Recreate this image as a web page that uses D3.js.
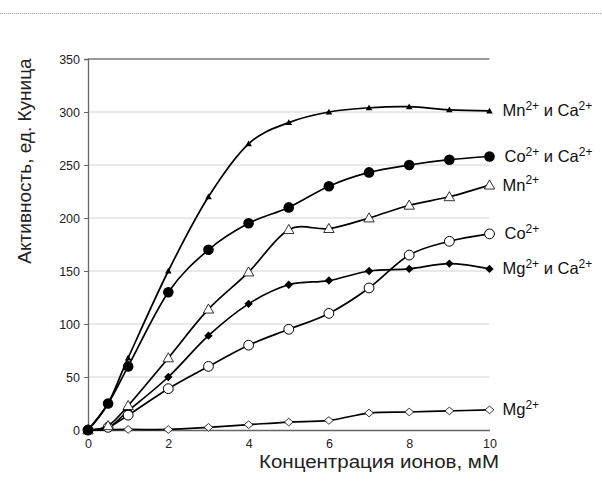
<!DOCTYPE html>
<html>
<head>
<meta charset="utf-8">
<script src="https://cdn.jsdelivr.net/npm/d3@7"></script>
<style>
  html, body { margin: 0; padding: 0; background: #fff; }
  svg { display: block; font-family: "Liberation Sans", Arial, sans-serif; }
</style>
</head>
<body>
<svg id="chart" width="602" height="481"></svg>
<script>
// ---- data ----
const concentrations = [0, 0.5, 1, 2, 3, 4, 5, 6, 7, 8, 9, 10];
const seriesNames = ["Mn2+ и Ca2+", "Co2+ и Ca2+", "Mn2+", "Co2+", "Mg2+ и Ca2+", "Mg2+"];
const mnCa = [0, 25, 68, 150, 220, 270, 290, 300, 304, 305, 302, 301];
const coCa = [0, 25, 60, 130, 170, 195, 210, 230, 243, 250, 255, 258];
const mn   = [0, 4, 23, 68, 114, 149, 189, 190, 200, 212, 220, 231];
const co   = [0, 2.5, 14, 39, 60, 80, 95, 110, 134, 165, 178, 185];
const mgCa = [0, 2, 18, 50, 89, 119, 137, 141, 150, 152, 157, 152];
const mg   = [0, null, 0.5, 0.5, 2.5, 5, 7.5, 9, 16, 17, 18, 19];
const yTicks = [0, 50, 100, 150, 200, 250, 300, 350];
const xTicks = [0, 2, 4, 6, 8, 10];
const xTitle = "Концентрация ионов, мМ";
const yTitle = "Активность, ед. Куница";

const values = [mnCa, coCa, mn, co, mgCa, mg];
const markers = ["triFilled", "circFilled", "triOpen", "circOpen", "diaFilled", "diaOpen"];

// ---- layout ----
const svg = d3.select("#chart");
const x = d3.scaleLinear().domain([0, 10]).range([88, 489.5]);
const y = d3.scaleLinear().domain([0, 350]).range([430, 59]);

// top dotted rule
svg.append("line").attr("x1", 0).attr("x2", 602).attr("y1", 13.5).attr("y2", 13.5)
  .attr("stroke", "#999").attr("stroke-width", 1).attr("stroke-dasharray", "1,1");

// gridlines
svg.append("g").selectAll("line").data(yTicks.filter(d => d > 0 && d < 350)).join("line")
  .attr("x1", x(0)).attr("x2", x(10))
  .attr("y1", d => y(d)).attr("y2", d => y(d))
  .attr("stroke", "#d4d4d4").attr("stroke-width", 1.2);

// top border at 350
svg.append("line").attr("x1", x(0)).attr("x2", x(10)).attr("y1", y(350)).attr("y2", y(350))
  .attr("stroke", "#777").attr("stroke-width", 1.3);

// y axis
const yAxis = d3.axisLeft(y).tickValues(yTicks).tickSize(4).tickPadding(4).tickFormat(d3.format("d"));
const gy = svg.append("g").attr("transform", `translate(${x(0)},0)`).call(yAxis);
gy.select(".domain").attr("stroke", "#666").attr("stroke-width", 1.3);
gy.selectAll(".tick line").attr("stroke", "#666");
gy.selectAll(".tick text").attr("font-size", 12.5).attr("fill", "#222")
  .attr("font-family", "Liberation Sans, Arial, sans-serif");

// x axis
const xAxis = d3.axisBottom(x).tickValues(xTicks).tickSize(0).tickPadding(9).tickFormat(d3.format("d"));
const gx = svg.append("g").attr("transform", `translate(0,${y(0)})`).call(xAxis);
gx.select(".domain").attr("stroke", "#666").attr("stroke-width", 1.6);
gx.selectAll(".tick text").attr("font-size", 12.5).attr("fill", "#222")
  .attr("font-family", "Liberation Sans, Arial, sans-serif");

// axis titles
svg.append("text").attr("x", 379).attr("y", 468).attr("text-anchor", "middle")
  .attr("font-size", 17.5).attr("fill", "#222")
  .attr("textLength", 240).attr("lengthAdjust", "spacingAndGlyphs").text(xTitle);
svg.append("text").attr("transform", `translate(31,161) rotate(-90)`).attr("text-anchor", "middle")
  .attr("font-size", 19).attr("fill", "#222").text(yTitle);

// ---- series ----
const line = d3.line().x(d => x(d[0])).y(d => y(d[1])).curve(d3.curveCardinal.tension(0));

function drawMarker(g, type, cx, cy) {
  if (type === "circFilled") {
    g.append("circle").attr("cx", cx).attr("cy", cy).attr("r", 5.3).attr("fill", "#000");
  } else if (type === "circOpen") {
    g.append("circle").attr("cx", cx).attr("cy", cy).attr("r", 4.9).attr("fill", "#fff")
      .attr("stroke", "#000").attr("stroke-width", 1);
  } else if (type === "triFilled") {
    const s = 3.3;
    g.append("path").attr("d", `M${cx},${cy - s}L${cx + s},${cy + s * 0.75}L${cx - s},${cy + s * 0.75}Z`)
      .attr("fill", "#000");
  } else if (type === "triOpen") {
    const s = 5.2;
    g.append("path").attr("d", `M${cx},${cy - s}L${cx + s},${cy + s * 0.75}L${cx - s},${cy + s * 0.75}Z`)
      .attr("fill", "#fff").attr("stroke", "#000").attr("stroke-width", 0.8);
  } else if (type === "diaFilled") {
    const s = 4.2;
    g.append("path").attr("d", `M${cx},${cy - s}L${cx + s},${cy}L${cx},${cy + s}L${cx - s},${cy}Z`)
      .attr("fill", "#000");
  } else if (type === "diaOpen") {
    const w = 4.4, h = 3.8;
    g.append("path").attr("d", `M${cx},${cy - h}L${cx + w},${cy}L${cx},${cy + h}L${cx - w},${cy}Z`)
      .attr("fill", "#fff").attr("stroke", "#000").attr("stroke-width", 0.8);
  }
}

// draw order: bottom series first
const order = [5, 4, 3, 2, 1, 0];
order.forEach(i => {
  const pts = concentrations.map((c, k) => [c, values[i][k]]).filter(p => p[1] !== null);
  const g = svg.append("g");
  g.append("path").attr("d", line(pts)).attr("fill", "none")
    .attr("stroke", "#000").attr("stroke-width", 1.7);
  pts.forEach(p => drawMarker(g, markers[i], x(p[0]), y(p[1])));
});

// ---- labels at line ends ----
function addLabel(name, lx, ly) {
  const t = svg.append("text").attr("x", lx).attr("y", ly).attr("font-size", 16.5).attr("fill", "#111");
  const parts = name.split(/(\d\+)/).filter(s => s.length);
  let raised = false;
  parts.forEach(p => {
    if (/^\d\+$/.test(p)) {
      t.append("tspan").attr("dy", -6.5).attr("font-size", 12).text(p);
      raised = true;
    } else {
      const ts = t.append("tspan");
      if (raised) { ts.attr("dy", 6.5); raised = false; }
      ts.text(p);
    }
  });
}
values.forEach((v, i) => {
  const last = v[v.length - 1];
  const dx = markers[i].startsWith("circ") ? 15 : 13;
  addLabel(seriesNames[i], x(10) + dx, y(last) + 5.5);
});
</script>
</body>
</html>
